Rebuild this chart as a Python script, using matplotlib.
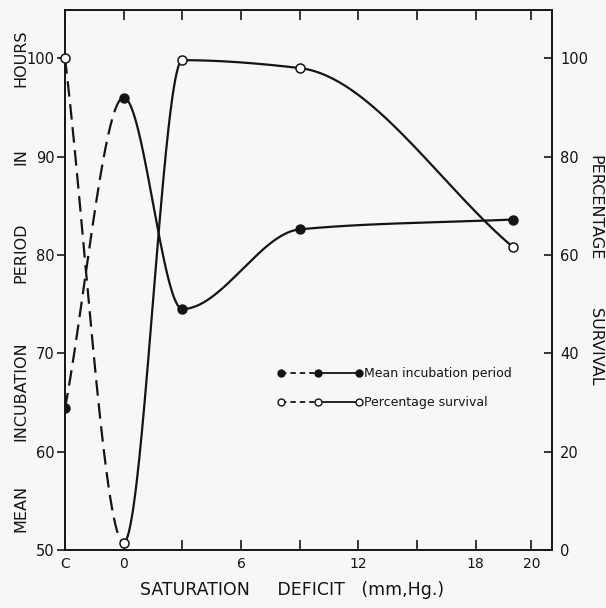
import numpy as np
import matplotlib
matplotlib.use("Agg")
import matplotlib.pyplot as plt
from matplotlib.lines import Line2D
from matplotlib.legend_handler import HandlerBase

# Data (control group "C" sits at -3 on the deficit axis)
deficit = [-3, 0, 3, 9, 19.9]
incubation_hours = [64.4, 96.0, 74.5, 82.6, 83.6]
survival_pct = [100.0, 1.5, 99.6, 98.0, 61.6]

xtick_pos = [-3, 0, 3, 6, 9, 12, 15, 18, 20.85]
xtick_lab = ['C', '0', '', '6', '', '12', '', '18', '20']
left_ticks = [50, 60, 70, 80, 90, 100]
right_ticks = [0, 20, 40, 60, 80, 100]

INK = '#141414'
PAPER = '#f7f7f5'
W, H = 606, 608


def pchip(x, y, xs):
    # monotone cubic (Fritsch-Carlson) used only to draw a smooth pen line
    x = np.asarray(x, float)
    y = np.asarray(y, float)
    h = np.diff(x)
    d = np.diff(y) / h
    m = np.zeros_like(y)
    for k in range(1, len(x) - 1):
        if d[k - 1] * d[k] > 0:
            w1 = 2 * h[k] + h[k - 1]
            w2 = h[k] + 2 * h[k - 1]
            m[k] = (w1 + w2) / (w1 / d[k - 1] + w2 / d[k])
    # secant slopes at the two ends, flattened if they would overshoot
    m[0] = d[0]
    m[-1] = d[-1] if d[-1] * d[-2] > 0 else 0.0
    i = np.clip(np.searchsorted(x, xs) - 1, 0, len(x) - 2)
    t = (xs - x[i]) / h[i]
    h00 = 2 * t**3 - 3 * t**2 + 1
    h10 = t**3 - 2 * t**2 + t
    h01 = -2 * t**3 + 3 * t**2
    h11 = t**3 - t**2
    return h00 * y[i] + h10 * h[i] * m[i] + h01 * y[i + 1] + h11 * h[i] * m[i + 1]


class DashSolidHandler(HandlerBase):
    def create_artists(self, legend, orig_handle, xdescent, ydescent,
                       width, height, fontsize, trans):
        y = height / 2 - ydescent
        x0 = -xdescent
        xm = x0 + width * 0.48
        x1 = x0 + width
        dash = Line2D([x0, xm], [y, y], color=INK, lw=1.3, ls=(0, (3, 2.2)))
        solid = Line2D([xm, x1], [y, y], color=INK, lw=1.3)
        dots = Line2D([x0, xm, x1], [y, y, y], ls='none', marker='o', ms=5,
                      mfc=orig_handle.get_markerfacecolor(), mec=INK, mew=1)
        for a in (dash, solid, dots):
            a.set_transform(trans)
        return [dash, solid, dots]


fig = plt.figure(figsize=(W / 100, H / 100), dpi=100, facecolor=PAPER)
ax = fig.add_axes([65 / W, 1 - 550 / H, (552 - 65) / W, (550 - 10) / H])
ax.set_facecolor(PAPER)
ax2 = ax.twinx()

xs_dash = np.linspace(deficit[0], deficit[1], 200)
xs_solid = np.linspace(deficit[1], deficit[-1], 800)

dash_style = dict(color=INK, lw=1.6, ls=(0, (7, 3.4)))
solid_style = dict(color=INK, lw=1.6)

ax.plot(xs_dash, pchip(deficit, incubation_hours, xs_dash), **dash_style)
ax.plot(xs_solid, pchip(deficit, incubation_hours, xs_solid), **solid_style)
pts_inc, = ax.plot(deficit, incubation_hours, ls='none', marker='o', ms=6.5,
                   mfc=INK, mec=INK, zorder=5)

ax2.plot(xs_dash, pchip(deficit, survival_pct, xs_dash), **dash_style)
ax2.plot(xs_solid, pchip(deficit, survival_pct, xs_solid), **solid_style)
pts_surv, = ax2.plot(deficit, survival_pct, ls='none', marker='o', ms=6.5,
                     mfc='white', mec=INK, mew=1.1, zorder=5, clip_on=False)

ax.set_xlim(-3, 21.9)
ax.set_ylim(50, 104.9)
ax2.set_ylim(0, 109.8)

ax.set_xticks(xtick_pos)
ax.set_xticklabels(xtick_lab)
ax.set_yticks(left_ticks)
ax2.set_yticks(right_ticks)

for a in (ax, ax2):
    for s in a.spines.values():
        s.set_linewidth(1.2)
        s.set_color(INK)

ax.tick_params(axis='x', direction='in', top=True, length=7, width=1.2,
               labelsize=10, pad=5, colors=INK)
ax.tick_params(axis='y', direction='out', length=6, width=1.2,
               labelsize=10.5, pad=1.5, colors=INK)
ax2.tick_params(axis='y', direction='in', length=6, width=1.2,
                labelsize=10.5, pad=6, colors=INK)

# axis titles, lettered word by word as on the original
left_words = ['MEAN', 'INCUBATION', 'PERIOD', 'IN', 'HOURS']
left_y = [508, 391, 253, 157, 58]
for word, yp in zip(left_words, left_y):
    fig.text(21 / W, 1 - yp / H, word, rotation=90, ha='center', va='center',
             fontsize=11.5, color=INK)

right_words = ['PERCENTAGE', 'SURVIVAL']
right_y = [208, 347]
for word, yp in zip(right_words, right_y):
    fig.text(595 / W, 1 - yp / H, word, rotation=-90, ha='center', va='center',
             fontsize=11.5, color=INK)

fig.text(292 / W, 1 - 590 / H, 'SATURATION     DEFICIT   (mm,Hg.)',
         ha='center', va='center', fontsize=12.5, color=INK)

ax2.legend([pts_inc, pts_surv], ['Mean incubation period', 'Percentage survival'],
           handler_map={Line2D: DashSolidHandler()}, frameon=False, fontsize=9,
           handlelength=6.2, handletextpad=0.45, labelspacing=1.25,
           loc='upper left', bbox_to_anchor=(0.444, 0.338),
           borderpad=0, borderaxespad=0, labelcolor=INK)

fig.savefig('out.png', dpi=100, facecolor=PAPER)
